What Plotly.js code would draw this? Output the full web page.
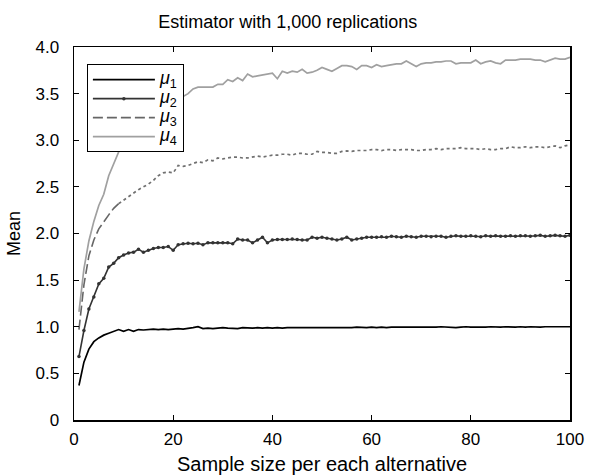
<!DOCTYPE html>
<html><head><meta charset="utf-8">
<script src="https://cdn.plot.ly/plotly-3.0.1.min.js"></script>
<style>html,body{margin:0;padding:0;background:#fff;}#chart{width:592px;height:475px;}</style>
</head><body><div id="chart"></div>
<script>
const sampleSize = Array.from({length:100},(_,i)=>i+1);
const mu1 = [0.37,0.62,0.76,0.84,0.88,0.91,0.93,0.95,0.97,0.95,
0.97,0.95,0.97,0.965,0.97,0.975,0.97,0.975,0.97,0.975,
0.98,0.975,0.98,0.99,1.00,0.98,0.985,0.98,0.985,0.99,
0.985,0.985,0.98,0.99,0.985,0.985,0.99,0.985,0.99,0.985,
0.99,0.985,0.99,0.99,0.985,0.99,0.99,0.985,0.99,0.99,
0.985,0.99,0.99,0.985,0.99,0.99,0.995,0.99,0.99,0.995,
0.99,0.995,0.99,0.995,0.995,0.99,0.995,0.995,0.99,0.995,
0.995,0.99,0.995,1.0,0.995,0.995,0.99,0.995,1.0,0.995,
0.995,0.99,0.995,1.0,0.995,0.995,1.0,0.995,0.995,1.0,
0.995,1.0,0.995,0.995,1.0,1.0,0.995,1.0,1.0,1.0];
const mu2 = [0.68,0.96,1.19,1.32,1.46,1.52,1.64,1.68,1.74,1.77,
1.79,1.80,1.83,1.80,1.82,1.84,1.85,1.85,1.86,1.82,
1.88,1.89,1.895,1.89,1.895,1.88,1.90,1.90,1.90,1.90,
1.90,1.89,1.94,1.93,1.93,1.90,1.93,1.96,1.90,1.93,
1.935,1.935,1.935,1.94,1.935,1.93,1.93,1.96,1.95,1.96,
1.95,1.94,1.93,1.94,1.96,1.93,1.94,1.95,1.96,1.96,
1.96,1.965,1.96,1.97,1.965,1.96,1.97,1.965,1.96,1.97,
1.97,1.965,1.97,1.97,1.96,1.97,1.975,1.97,1.97,1.975,
1.97,1.965,1.975,1.97,1.975,1.97,1.97,1.975,1.97,1.975,
1.975,1.97,1.975,1.98,1.97,1.975,1.98,1.975,1.97,1.98];
const mu3 = [0.97,1.45,1.76,1.93,2.05,2.13,2.20,2.27,2.32,2.36,
2.40,2.44,2.47,2.50,2.53,2.57,2.62,2.65,2.66,2.65,
2.73,2.72,2.73,2.75,2.77,2.76,2.79,2.78,2.81,2.80,
2.81,2.82,2.82,2.81,2.81,2.82,2.83,2.82,2.83,2.84,
2.84,2.85,2.85,2.84,2.86,2.86,2.85,2.85,2.88,2.87,
2.87,2.86,2.86,2.88,2.885,2.88,2.89,2.89,2.89,2.90,
2.90,2.89,2.90,2.90,2.89,2.90,2.90,2.90,2.89,2.89,
2.90,2.90,2.91,2.90,2.91,2.91,2.91,2.92,2.91,2.91,
2.91,2.90,2.91,2.90,2.90,2.91,2.91,2.93,2.92,2.92,
2.93,2.92,2.93,2.93,2.92,2.93,2.94,2.92,2.94,2.95];
const mu4 = [1.16,1.62,1.92,2.13,2.30,2.42,2.62,2.75,2.87,3.00,
3.08,3.15,3.21,3.26,3.30,3.34,3.37,3.40,3.42,3.44,
3.46,3.47,3.50,3.55,3.57,3.57,3.57,3.57,3.60,3.60,
3.65,3.63,3.67,3.64,3.71,3.68,3.69,3.70,3.71,3.72,
3.66,3.74,3.72,3.74,3.73,3.76,3.72,3.73,3.75,3.78,
3.76,3.74,3.77,3.80,3.80,3.79,3.76,3.80,3.80,3.78,
3.81,3.79,3.80,3.81,3.82,3.82,3.85,3.82,3.79,3.82,
3.83,3.83,3.84,3.84,3.85,3.85,3.82,3.83,3.83,3.83,
3.86,3.82,3.84,3.85,3.83,3.82,3.86,3.86,3.86,3.87,
3.87,3.87,3.86,3.86,3.84,3.86,3.88,3.87,3.87,3.89];
const subs = ['1','2','3','4'];
const names = subs.map(s => '<span style="font-size:18px"><i>μ</i><sub>' + s + '</sub></span>');
const yTickVals = [0,0.5,1,1.5,2,2.5,3,3.5,4];
const yTickText = ['0','0.5','1.0','1.5','2.0','2.5','3.0','3.5','4.0'];
const xTickVals = [0,20,40,60,80,100];
const split = 9;

const traces = [
  {x:sampleSize, y:mu1, name:names[0], mode:'lines', line:{color:'#000000', width:1.7}},
  {x:sampleSize, y:mu2, name:names[1], mode:'lines+markers', line:{color:'#333333', width:1.6}, marker:{size:3.5, color:'#333333'}},
  {x:sampleSize.slice(0,split), y:mu3.slice(0,split), name:names[2], mode:'lines', line:{color:'#666666', width:1.6, dash:'10px,4px'}},
  {x:sampleSize.slice(split-1), y:mu3.slice(split-1), name:names[2], mode:'lines', showlegend:false, line:{color:'#707070', width:1.7, dash:'dot'}},
  {x:sampleSize, y:mu4, name:names[3], mode:'lines', line:{color:'#a0a0a0', width:1.7}}
];
const fam = 'Liberation Sans, Arial, sans-serif';
const layout = {
  width:592, height:475,
  margin:{l:74, r:22, t:47, b:55},
  paper_bgcolor:'#fff', plot_bgcolor:'#fff',
  font:{family:fam, color:'#000', size:16},
  title:{text:'Estimator with 1,000 replications', font:{family:fam, color:'#000', size:18}, x:0.486, xanchor:'center', y:0.955, yanchor:'middle'},
  xaxis:{range:[0,100], tickvals:xTickVals, ticks:'inside', ticklen:5, tickcolor:'#000', showline:true, linecolor:'#000', linewidth:1.5, mirror:'ticks', showgrid:false, zeroline:false, ticklabelstandoff:3,
         title:{text:'Sample size per each alternative', font:{family:fam, color:'#000', size:20}, standoff:11}, tickfont:{family:fam, color:'#000', size:17}},
  yaxis:{range:[0,4], tickvals:yTickVals, ticktext:yTickText, ticks:'inside', ticklen:5, tickcolor:'#000', showline:true, linecolor:'#000', linewidth:1.5, mirror:'ticks', showgrid:false, zeroline:false, ticklabelstandoff:10,
         title:{text:'Mean', font:{family:fam, color:'#000', size:18}, standoff:10}, tickfont:{family:fam, color:'#000', size:17}},
  legend:{x:0.026, y:0.954, xanchor:'left', yanchor:'top', bgcolor:'#fff', bordercolor:'#000', borderwidth:1, font:{family:fam, color:'#000', size:12}, itemwidth:62, tracegroupgap:0},
  showlegend:true
};
Plotly.newPlot('chart', traces, layout, {displayModeBar:false, staticPlot:true});
</script></body></html>
